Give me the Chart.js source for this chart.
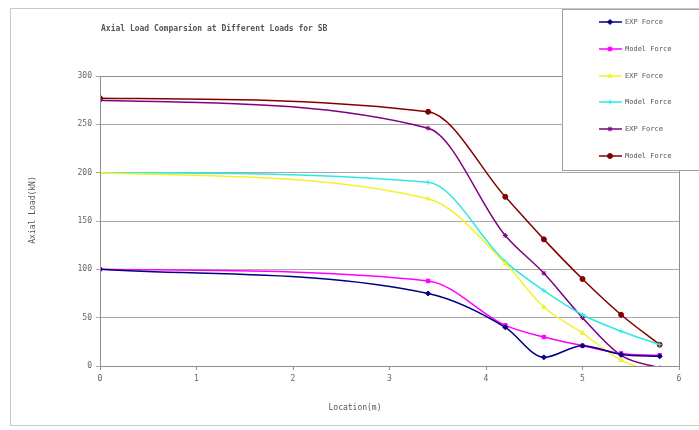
<!DOCTYPE html>
<html><head><meta charset="utf-8">
<script src="https://cdn.jsdelivr.net/npm/chart.js@4/dist/chart.umd.min.js"></script>
<style>html,body{margin:0;padding:0;background:#fff}#wrap{width:699px;height:430px;position:relative}</style>
</head><body><div id="wrap"><canvas id="c" width="699" height="430"></canvas></div>
<script>
const locations = [0, 3.4, 4.2, 4.6, 5.0, 5.4, 5.8];
const exp100 = [100, 75, 40, 9, 21, 12, 10];
const model100 = [100, 88, 42, 30, 21, 13, 11];
const exp200 = [200, 173, 106, 61, 34, 6, -8];
const model200 = [200, 190, 108, 78, 53, 36, 22];
const exp275 = [275, 246, 135, 96, 50, 11, -2];
const model275 = [277, 263, 175, 131, 90, 53, 22];
const seriesNames = ['EXP Force','Model Force','EXP Force','Model Force','EXP Force','Model Force'];
const yTicks = [0, 50, 100, 150, 200, 250, 300];
const xTicks = [0, 1, 2, 3, 4, 5, 6];
const titleText = 'Axial Load Comparsion at Different Loads for SB';
const xTitle = 'Location(m)';
const yTitle = 'Axial Load(kN)';

const colors = ['#000080','#ff00ff','#f2f230','#30e8e0','#800080','#800000'];
const styles = ['rectRot','rect','triangle','cross','star','circle'];
const allSeries = [exp100, model100, exp200, model200, exp275, model275];

const datasets = allSeries.map((arr, i) => ({
  label: seriesNames[i],
  data: arr.map((v, j) => ({x: locations[j], y: v})),
  borderColor: colors[i],
  backgroundColor: colors[i],
  pointStyle: styles[i],
  pointRadius: 2.5,
  pointBorderWidth: 1,
  borderWidth: 1.5,
  cubicInterpolationMode: 'monotone',
  fill: false
}));

const deco = {
  id: 'deco',
  beforeDraw(chart) {
    const ctx = chart.ctx;
    ctx.save();
    ctx.fillStyle = '#fff';
    ctx.fillRect(0, 0, 699, 430);
    ctx.strokeStyle = '#c8c8c8';
    ctx.lineWidth = 1;
    ctx.strokeRect(10.5, 8.5, 700, 417);
    ctx.restore();
  },
  afterDraw(chart) {
    const ctx = chart.ctx;
    const a = chart.chartArea;
    ctx.save();
    ctx.strokeStyle = '#909090';
    ctx.lineWidth = 1;
    ctx.strokeRect(Math.round(a.left) + 0.5, Math.round(a.top) + 0.5, Math.round(a.right - a.left), Math.round(a.bottom - a.top));
    ctx.fillStyle = '#555';
    ctx.font = 'bold 8px "DejaVu Sans Mono"';
    ctx.textAlign = 'left';
    ctx.textBaseline = 'middle';
    ctx.fillText(titleText, 101, 29);
    ctx.font = '8px "DejaVu Sans Mono"';
    ctx.textAlign = 'center';
    ctx.fillText(xTitle, 355, 408);
    ctx.save();
    ctx.translate(33, 210);
    ctx.rotate(-Math.PI / 2);
    ctx.fillText(yTitle, 0, 0);
    ctx.restore();
    ctx.fillStyle = '#fff';
    ctx.fillRect(562, 9, 137, 161);
    ctx.strokeStyle = '#a0a0a0';
    ctx.strokeRect(562.5, 9.5, 140, 161);
    const ys = [22, 49, 76, 102, 129, 156];
    ys.forEach((y, i) => {
      ctx.strokeStyle = colors[i];
      ctx.lineWidth = 1.5;
      ctx.beginPath();
      ctx.moveTo(599, y);
      ctx.lineTo(622, y);
      ctx.stroke();
      ctx.fillStyle = colors[i];
      ctx.strokeStyle = colors[i];
      ctx.lineWidth = 1;
      Chart.helpers.drawPoint(ctx, {pointStyle: styles[i], radius: 2.5, borderWidth: 1}, 610, y);
      ctx.fillStyle = '#555';
      ctx.font = '7px "DejaVu Sans Mono"';
      ctx.textAlign = 'left';
      ctx.fillText(seriesNames[i], 625, y);
    });
    ctx.restore();
  }
};

new Chart(document.getElementById('c'), {
  type: 'line',
  data: { datasets },
  options: {
    responsive: false,
    animation: false,
    layout: { padding: { top: 76, right: 20, left: 0, bottom: 0 } },
    plugins: { legend: { display: false }, title: { display: false }, tooltip: { enabled: false } },
    scales: {
      x: {
        type: 'linear', min: 0, max: 6,
        afterFit: s => { s.height = 64; },
        afterBuildTicks: s => { s.ticks = xTicks.map(v => ({value: v})); },
        grid: { display: true, drawOnChartArea: false, drawTicks: true, tickLength: 4, color: '#909090' },
        border: { color: '#909090' },
        ticks: { color: '#666', font: { family: 'DejaVu Sans Mono', size: 8 }, padding: 4, maxRotation: 0 }
      },
      y: {
        min: 0, max: 300,
        afterFit: s => { s.width = 100; },
        afterBuildTicks: s => { s.ticks = yTicks.map(v => ({value: v})); },
        grid: { color: '#a8a8a8', drawTicks: true, tickLength: 4 },
        border: { color: '#909090' },
        ticks: { color: '#666', font: { family: 'DejaVu Sans Mono', size: 8 }, padding: 4 }
      }
    }
  },
  plugins: [deco]
});
</script></body></html>
